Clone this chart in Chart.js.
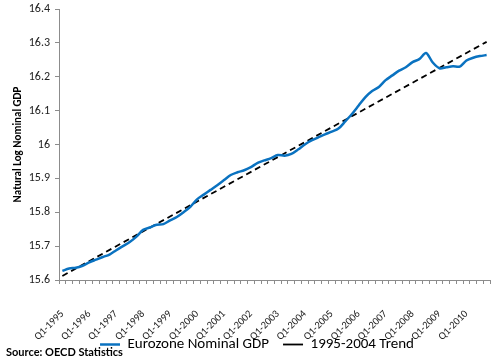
<!DOCTYPE html>
<html>
<head>
<meta charset="utf-8">
<script src="https://cdn.jsdelivr.net/npm/chart.js@4.4.0/dist/chart.umd.min.js"></script>
<style>
  body { margin: 0; background: #fff; }
  #wrap { position: relative; width: 500px; height: 362px; }
  #source { position: absolute; left: 6px; top: 345px; font: bold 11px Lato, sans-serif; color: #000; }
</style>
</head>
<body>
<div id="wrap">
  <canvas id="gdpChart" width="500" height="362"></canvas>
  <div id="source">Source: OECD Statistics</div>
</div>
<script>
// Quarters Q1-1995 .. Q4-2010
const years = [1995, 1996, 1997, 1998, 1999, 2000, 2001, 2002, 2003, 2004, 2005, 2006, 2007, 2008, 2009, 2010];
const quarters = ['Q1', 'Q2', 'Q3', 'Q4'];

// Natural log of Eurozone nominal GDP, one value per quarter
const gdpLog = [
  15.627, 15.634, 15.636, 15.642,  // 1995
  15.652, 15.660, 15.668, 15.675,  // 1996
  15.688, 15.700, 15.712, 15.728,  // 1997
  15.748, 15.755, 15.763, 15.765,  // 1998
  15.776, 15.786, 15.800, 15.816,  // 1999
  15.838, 15.852, 15.866, 15.880,  // 2000
  15.895, 15.910, 15.918, 15.924,  // 2001
  15.933, 15.946, 15.953, 15.960,  // 2002
  15.969, 15.967, 15.972, 15.985,  // 2003
  16.000, 16.012, 16.021, 16.030,  // 2004
  16.038, 16.047, 16.068, 16.090,  // 2005
  16.115, 16.140, 16.158, 16.170,  // 2006
  16.190, 16.204, 16.218, 16.228,  // 2007
  16.243, 16.252, 16.270, 16.242,  // 2008
  16.225, 16.228, 16.231, 16.230,  // 2009
  16.248, 16.256, 16.261, 16.264   // 2010
];

// 1995-2004 trend line, start and end points
const trendLabels = ['Q1-1995', 'Q4-2010'];
const trendValues = [15.612, 16.303];

const labels = [];
years.forEach(y => quarters.forEach(q => labels.push(q + '-' + y)));

const trendPoints = trendLabels.map((l, i) => ({ x: l, y: trendValues[i] }));

const fontFamily = 'Carlito, Lato, sans-serif';
const axisGray = '#8c8c8c';

// let the rotated x labels run down into the legend band instead of being clipped,
// and nudge the legend a little to the right like the original
const layoutTweaks = {
  id: 'layoutTweaks',
  afterLayout(chart) {
    chart.scales.x.bottom = chart.height;
    chart.legend.left += 12;
    chart.legend.right += 12;
  }
};

const ctx = document.getElementById('gdpChart').getContext('2d');
new Chart(ctx, {
  type: 'line',
  data: {
    labels: labels,
    datasets: [{
      label: 'Eurozone Nominal GDP',
      data: gdpLog,
      borderColor: '#0a72c0',
      backgroundColor: '#0a72c0',
      borderWidth: 2.5,
      pointRadius: 0,
      tension: 0.3,
      fill: false
    }, {
      label: '1995-2004 Trend',
      data: trendPoints,
      borderColor: '#000',
      backgroundColor: '#000',
      borderWidth: 1.8,
      borderDash: [6, 4],
      pointRadius: 0,
      fill: false
    }]
  },
  plugins: [layoutTweaks],
  options: {
    responsive: false,
    animation: false,
    layout: { padding: { top: 0, right: 10, bottom: 0, left: 0 } },
    plugins: {
      legend: {
        position: 'bottom',
        labels: {
          usePointStyle: true,
          pointStyle: 'line',
          pointStyleWidth: 20,
          padding: 14,
          color: '#000',
          font: { family: fontFamily, size: 15 }
        }
      },
      tooltip: { enabled: false }
    },
    scales: {
      x: {
        offset: true,
        afterFit: function (s) { s.height = 43; s.paddingLeft = 0; s.paddingRight = 0; },
        grid: { drawOnChartArea: false, tickLength: 4, color: axisGray, offset: true },
        border: { color: axisGray },
        ticks: {
          autoSkip: false,
          maxRotation: 45,
          minRotation: 45,
          padding: 24,
          color: '#222',
          font: { family: fontFamily, size: 10.5 },
          callback: function (v, i) { return i % 4 === 0 ? this.getLabelForValue(v) : ''; }
        }
      },
      y: {
        min: 15.6,
        max: 16.4,
        afterFit: function (s) { s.width = 59; s.paddingTop = 9; },
        grid: { drawOnChartArea: false, tickLength: 4, color: axisGray },
        border: { color: axisGray },
        ticks: {
          stepSize: 0.1,
          padding: 5,
          color: '#222',
          font: { family: fontFamily, size: 12 },
          callback: v => parseFloat(v.toFixed(1)).toString()
        },
        title: {
          display: true,
          text: 'Natural Log Nominal GDP',
          color: '#000',
          font: { family: fontFamily, size: 11, weight: 'bold' },
          padding: { top: 12, bottom: 0 }
        }
      }
    }
  }
});
</script>
</body>
</html>
